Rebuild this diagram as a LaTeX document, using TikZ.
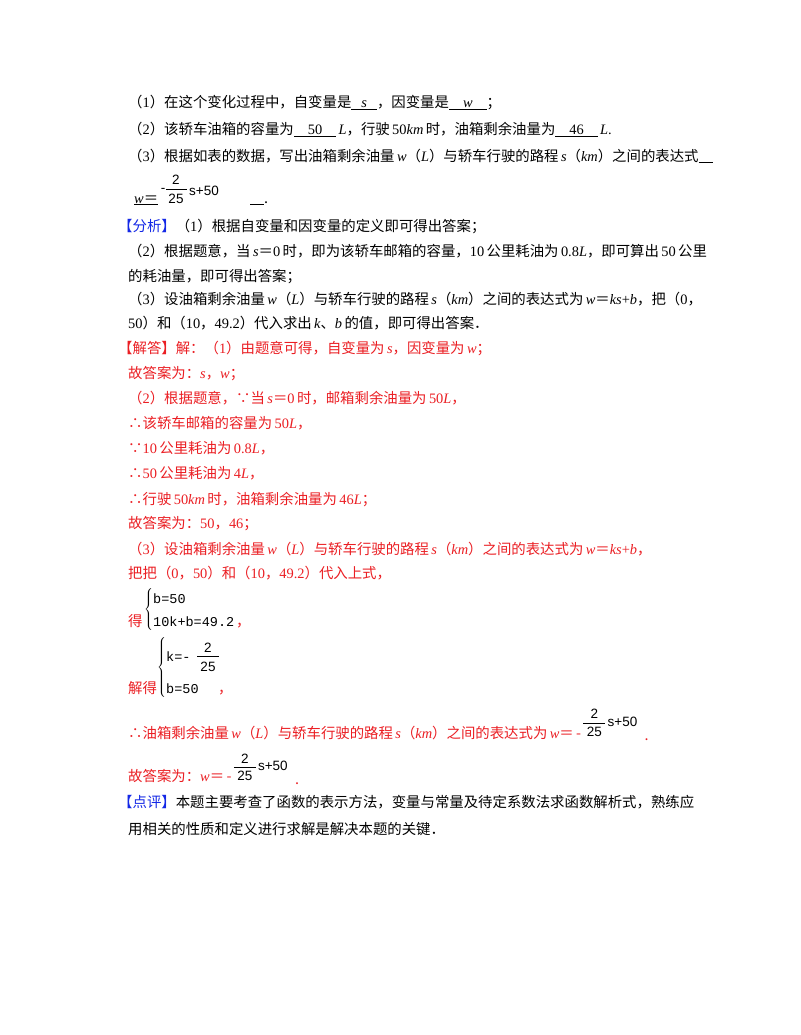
\documentclass[tikz,border=0pt]{standalone}
\usepackage{fontspec}
\setmainfont{Noto Sans CJK SC}
\newfontfamily\lt{Liberation Serif}
\newfontfamily\ls{Liberation Sans}
\newfontfamily\lm{Liberation Mono}
\newcommand\R[1]{{\lt #1}}
\newcommand\I[1]{{\lt\itshape #1}}
\newcommand\ul[3]{\underline{\hspace{#1}#2\hspace{#3}}}
\definecolor{ansred}{RGB}{235,30,35}
\definecolor{ansblue}{RGB}{20,40,230}
\newcommand\fs{\fontsize{14.4}{16}\selectfont}
\begin{document}
\begin{tikzpicture}[x=1pt,y=-1pt,
  t/.style={anchor=base west,inner sep=0pt,font=\fs},
  rt/.style={t,text=ansred},
  sf/.style={anchor=base,inner sep=0pt,font=\ls\fontsize{13.5}{14}\selectfont},
  mono/.style={anchor=base west,inner sep=0pt,font=\lm\fontsize{13.5}{14}\selectfont},
  bar/.style={line width=0.7pt}]
\useasboundingbox[fill=white] (0,0) rectangle (800,1035);
% question lines
\node[t] (q1) at (128,108) {（\R{1}）在这个变化过程中，自变量是\ul{10pt}{\I{s}}{10pt}，因变量是\ul{14pt}{\I{w}}{14pt}；};
\node[t] (q2) at (128,135) {（\R{2}）该轿车油箱的容量为\ul{14pt}{\R{50}}{14pt}\,\I{L}，行驶\,\R{50}\I{km}\,时，油箱剩余油量为\ul{14pt}{\R{46}}{14pt}\,\I{L}\R{.}};
\node[t] (q3) at (128,161) {（\R{3}）根据如表的数据，写出油箱剩余油量\,\I{w}（\I{L}）与轿车行驶的路程\,\I{s}（\I{km}）之间的表达式\ul{14pt}{}{0pt}};
\node[t] (q4) at (134,203) {\underline{\I{w}＝}};
\node[sf] (f1a) at (163,193) {-};
\node[sf] (f1n) at (176,185) {2};
\node[sf] (f1d) at (176,203) {25};
\draw[bar] (166,189) -- (187,189);
\node[sf,anchor=base west] (f1s) at (189,195) {s+50};
\node[t] (q4e) at (250,203) {\ul{14pt}{}{0pt}.};
% analysis
\node[t] (a1) at (118,231) {\textcolor{ansblue}{【分析】}（\R{1}）根据自变量和因变量的定义即可得出答案；};
\node[t] (a2) at (128,256) {（\R{2}）根据题意，当\,\I{s}＝\R{0}\,时，即为该轿车邮箱的容量，\R{10}\,公里耗油为\,\R{0.8}\I{L}，即可算出\,\R{50}\,公里};
\node[t] (a3) at (128,281) {的耗油量，即可得出答案；};
\node[t] (a4) at (128,304) {（\R{3}）设油箱剩余油量\,\I{w}（\I{L}）与轿车行驶的路程\,\I{s}（\I{km}）之间的表达式为\,\I{w}＝\I{ks}\R{+}\I{b}，把（\R{0}，};
\node[t] (a5) at (128,328) {\R{50}）和（\R{10}，\R{49.2}）代入求出\,\I{k}、\I{b}\,的值，即可得出答案．};
% answer
\node[rt] (b1) at (118,353) {【解答】解：（\R{1}）由题意可得，自变量为\,\I{s}，因变量为\,\I{w}；};
\node[rt] (b2) at (128,378) {故答案为：\I{s}，\I{w}；};
\node[rt] (b3) at (128,403) {（\R{2}）根据题意，∵当\,\I{s}＝\R{0}\,时，邮箱剩余油量为\,\R{50}\I{L}，};
\node[rt] (b4) at (128,428) {∴该轿车邮箱的容量为\,\R{50}\I{L}，};
\node[rt] (b5) at (128,453) {∵\R{10}\,公里耗油为\,\R{0.8}\I{L}，};
\node[rt] (b6) at (128,478) {∴\R{50}\,公里耗油为\,\R{4}\I{L}，};
\node[rt] (b7) at (128,504) {∴行驶\,\R{50}\I{km}\,时，油箱剩余油量为\,\R{46}\I{L}；};
\node[rt] (b8) at (128,528) {故答案为：\R{50}，\R{46}；};
\node[rt] (b9) at (128,554) {（\R{3}）设油箱剩余油量\,\I{w}（\I{L}）与轿车行驶的路程\,\I{s}（\I{km}）之间的表达式为\,\I{w}＝\I{ks}\R{+}\I{b}，};
\node[rt] (b10) at (128,578) {把把（\R{0}，\R{50}）和（\R{10}，\R{49.2}）代入上式，};
% system 1
\node[rt] (d1) at (128,626) {得};
\node[inner sep=0pt,anchor=west] (br1) at (144,610) {\fontsize{11}{11}\selectfont$\left\{\vrule height 19pt depth 19pt width 0pt\right.$};
\node[mono] (s1a) at (153,603) {b=50};
\node[mono] (s1b) at (153,626) {10k+b=49.2};
\node[rt] (s1c) at (236,626) {，};
% system 2
\node[inner sep=0pt,anchor=west] (br2) at (157,667) {\fontsize{11}{11}\selectfont$\left\{\vrule height 27pt depth 27pt width 0pt\right.$};
\node[mono] (s2a) at (166,661) {k=-};
\node[sf] (s2n) at (208,652) {2};
\node[sf] (s2d) at (208,671) {25};
\draw[bar] (197,656) -- (219,656);
\node[rt] (d2) at (128,693) {解得};
\node[mono] (s2b) at (166,693) {b=50};
\node[rt] (s2c) at (218,693) {，};
% conclusion
\node[rt] (c1) at (128,738) {∴油箱剩余油量\,\I{w}（\I{L}）与轿车行驶的路程\,\I{s}（\I{km}）之间的表达式为\,\I{w}＝\,-};
\coordinate (cf) at ([xshift=13pt]c1.base east);
\node[sf] (c1n) at ([yshift=20pt]cf) {2};
\node[sf] (c1d) at ([yshift=2pt]cf) {25};
\draw[bar] ([xshift=-11pt,yshift=15pt]cf) -- ([xshift=11pt,yshift=15pt]cf);
\node[sf,anchor=base west] (c1s) at ([xshift=13pt,yshift=12pt]cf) {s+50};
\node[rt] (c1e) at ([xshift=50pt,yshift=-2pt]cf) {.};
\node[rt] (c2) at (128,781) {故答案为：\I{w}＝\,-};
\coordinate (cg) at ([xshift=13pt]c2.base east);
\node[sf] (c2n) at ([yshift=18pt]cg) {2};
\node[sf] (c2d) at ([yshift=1pt]cg) {25};
\draw[bar] ([xshift=-11pt,yshift=14pt]cg) -- ([xshift=11pt,yshift=14pt]cg);
\node[sf,anchor=base west] (c2s) at ([xshift=13pt,yshift=11pt]cg) {s+50};
\node[rt] (c2e) at ([xshift=50pt,yshift=-3pt]cg) {.};
% comment
\node[t] (p1) at (118,807) {\textcolor{ansblue}{【点评】}本题主要考查了函数的表示方法，变量与常量及待定系数法求函数解析式，熟练应};
\node[t] (p2) at (128,834) {用相关的性质和定义进行求解是解决本题的关键．};
\end{tikzpicture}
\end{document}
